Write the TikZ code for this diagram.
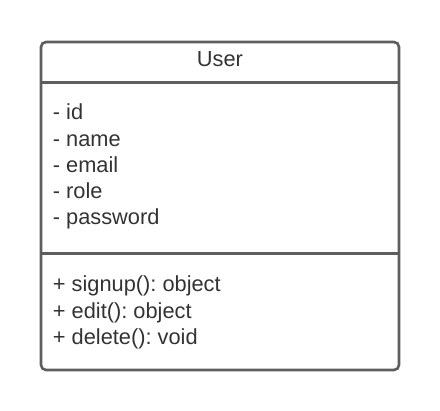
\documentclass[tikz,border=0pt]{standalone}
\usepackage{fontspec}
\setmainfont{Liberation Sans}
\frenchspacing
\definecolor{edge}{HTML}{5E5E5E}
\definecolor{txt}{HTML}{333333}
\begin{document}
\begin{tikzpicture}[x=1pt,y=-1pt,
  classbox/.style={draw=edge,line width=2.6pt,rounded corners=5pt},
  sep/.style={draw=edge,line width=2.6pt},
  member/.style={anchor=base west,inner sep=0pt,text=txt,font=\fontsize{21.8}{24}\selectfont\frenchspacing},
  title/.style={anchor=base,inner sep=0pt,text=txt,font=\fontsize{21.8}{24}\selectfont}]
\useasboundingbox (0,0) rectangle (440,411);
\coordinate (tl) at (41,42);
\coordinate (br) at (399,370);
\draw[classbox] (tl) rectangle (br);
\coordinate (d1l) at (41,82.5);
\coordinate (d1r) at (399,82.5);
\coordinate (d2l) at (41,253.5);
\coordinate (d2r) at (399,253.5);
\draw[sep] (d1l) -- (d1r);
\draw[sep] (d2l) -- (d2r);
\node[title] (t) at (220,66.5) {User};
\node[member] (a1) at (52.7,120) {- id};
\node[member] (a2) at (52.7,146.2) {- name};
\node[member] (a3) at (52.7,172.4) {- email};
\node[member] (a4) at (52.7,198.6) {- role};
\node[member] (a5) at (52.7,224.8) {- password};
\node[member] (m1) at (52.7,292) {+ signup(): object};
\node[member] (m2) at (52.7,318.2) {+ edit(): object};
\node[member] (m3) at (52.7,344.4) {+ delete(): void};
\end{tikzpicture}
\end{document}
